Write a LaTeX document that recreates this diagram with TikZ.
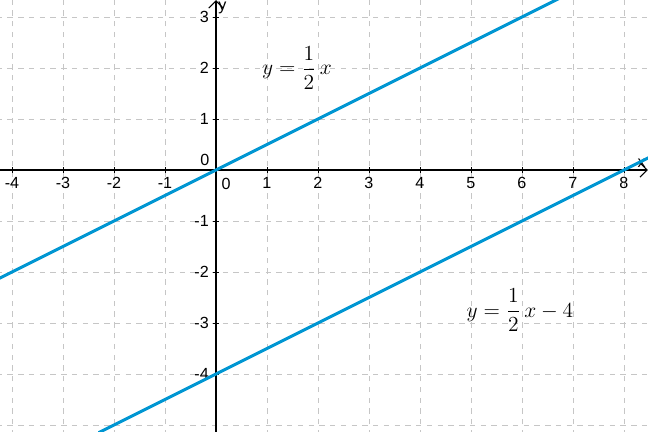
\documentclass[tikz,border=0pt]{standalone}
\usepackage{fontspec}
\usepackage{amsmath}
\newfontfamily\ticksfont{Liberation Sans}
\usetikzlibrary{arrows.meta}
\definecolor{linblue}{RGB}{0,150,210}
\tikzset{
    gridline/.style={gray!45, dashed, line width=0.4pt},
    axisline/.style={-{Straight Barb[length=4pt]}, line width=0.6pt},
    graphline/.style={linblue, line width=1.7pt},
    ticklabel/.style={font=\ticksfont\small, inner sep=1pt}
}
\begin{document}
\begin{tikzpicture}
        \useasboundingbox (-4.235,-5.137) rectangle (8.471,3.333);
        \clip (-4.235,-5.137) rectangle (8.471,3.333);

        % Grid
        \foreach \x in {-4,...,8}
            \draw[gridline] (\x,-5.2) -- (\x,3.4);
        \foreach \y in {-5,...,3}
            \draw[gridline] (-4.3,\y) -- (8.5,\y);

        % Axes
        \draw[axisline] (-4.3,0) -- (8.47,0) node[above left, ticklabel] {x};
        \draw[axisline] (0,-5.2) -- (0,3.33) node[below right, ticklabel] {y};

        % Tick labels
        \foreach \x in {-4,...,-1,1,2,...,8} {
            \draw (\x,-0.06) -- (\x,0.06);
            \node[below, ticklabel] at (\x,-0.1) {\x};
        }
        \foreach \y in {-4,...,-1,1,2,3} {
            \draw (-0.06,\y) -- (0.06,\y);
            \node[left, ticklabel] at (-0.1,\y) {\y};
        }
        \node[ticklabel] at (0.2,-0.27) {0};
        \node[ticklabel] at (-0.22,0.2) {0};

        % Graphs
        \draw[graphline] (-4.3,-2.15) -- (6.75,3.375);
        \draw[graphline] (-2.3,-5.15) -- (8.5,0.25);

        % Formulas
        \node[font=\large] at (1.59,2.0) {$y=\dfrac{1}{2}\,x$};
        \node[font=\large] at (5.96,-2.75) {$y=\dfrac{1}{2}\,x-4$};
\end{tikzpicture}
\end{document}
